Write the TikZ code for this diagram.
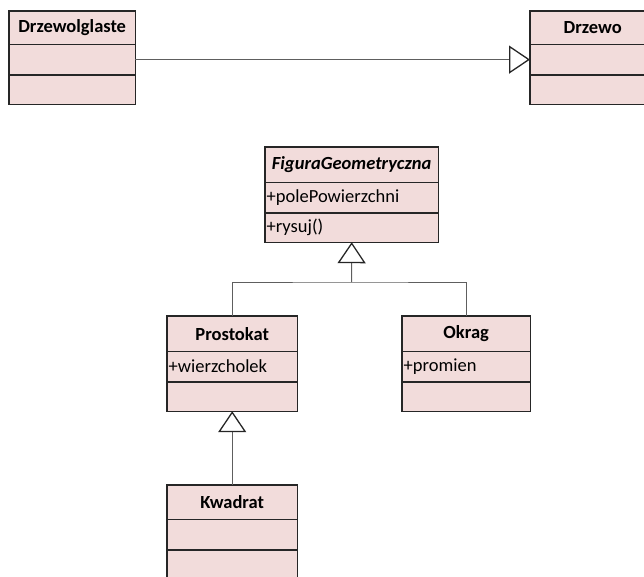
\documentclass[tikz,border=0pt]{standalone}
\usepackage{fontspec}
\setmainfont{Carlito}
\usetikzlibrary{arrows.meta}

\definecolor{umlfill}{HTML}{F2DCDB}
\definecolor{umlborder}{HTML}{262626}
\definecolor{linkgray}{HTML}{5E5E5E}

\tikzset{
  cpart/.style={fill=umlfill, rectangle, anchor=north west, inner sep=0pt},
  cline/.style={draw=umlborder, line width=1.4pt},
  ctext/.style={anchor=west, inner sep=0pt, xshift=1.5pt},
  link/.style={draw=linkgray, line width=1pt},
  gen/.style={link, -{Triangle[open, length=21pt, width=28pt, color=umlborder, line width=1.3pt]}},
}

% UML class box: [title height] name, top-left corner, width, title font, title, attribute, operation
\newcommand{\umlclass}[8][35]{%
  \node[cpart, minimum width=#4, minimum height=#1] (#2) at #3 {#5#6};
  \node[cpart, minimum width=#4, minimum height=30] (#2-a) at (#2.south west) {};
  \node[ctext] (#2-at) at (#2-a.west) {#7};
  \node[cpart, minimum width=#4, minimum height=29] (#2-o) at (#2-a.south west) {};
  \node[ctext] (#2-ot) at (#2-o.west) {#8};
  \draw[cline] (#2.north west) rectangle (#2-o.south east);
  \draw[cline] (#2-a.north west) -- (#2-a.north east);
  \draw[cline] (#2-o.north west) -- (#2-o.north east);
}

\begin{document}
\begin{tikzpicture}[x=1pt, y=-1pt, font=\fontsize{18.5}{22}\selectfont]
  \useasboundingbox (0,0) rectangle (644,576);

  % classes
  \umlclass[33]{dz}{(9,11)}{126}{\bfseries}{Drzewolglaste}{}{}
  \umlclass[33]{dr}{(530,11)}{125}{\bfseries}{Drzewo}{}{}
  \umlclass{fg}{(265,147)}{173}{\bfseries\itshape}{FiguraGeometryczna}{+polePowierzchni}{+rysuj()}
  \umlclass{pr}{(167,316)}{130}{\bfseries}{Prostokat}{+wierzcholek}{}
  \umlclass{ok}{(402,316)}{128}{\bfseries}{Okrag}{+promien}{}
  \umlclass[34]{kw}{(167,485)}{130}{\bfseries}{Kwadrat}{}{}

  % generalizations
  \draw[gen] (dz-a.east) -- (dr-a.west);

  \coordinate (jn) at (351.5,282);
  \draw[link] (pr.north) |- (jn) -| (ok.north);
  \draw[gen] (jn) -- (fg-o.south);

  \draw[gen] (kw.north) -- (pr-o.south);
\end{tikzpicture}
\end{document}
